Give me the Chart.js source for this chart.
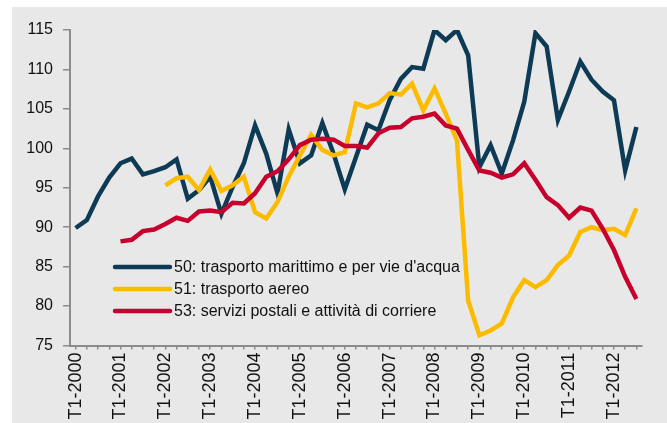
<!DOCTYPE html>
<html><head><meta charset="utf-8">
<script src="https://cdn.jsdelivr.net/npm/chart.js@4.4.1/dist/chart.umd.min.js"></script>
<style>
html,body{margin:0;padding:0;background:#fff;overflow:hidden;width:667px;height:423px;}
#bg{position:absolute;left:12px;top:7px;width:655px;height:416px;background:#e8e8e8;}
#wrap{position:absolute;left:0;top:0;width:667px;height:440px;}
</style></head><body>
<div id="bg"></div>
<div id="wrap"><canvas id="c" width="667" height="440"></canvas></div>
<script>
const years = [2000,2001,2002,2003,2004,2005,2006,2007,2008,2009,2010,2011,2012];
const quarters = ['T1','T2','T3','T4'];
const lastQuarterCount = 3; // series ends at T3-2012
const categories = [];
years.forEach((y, yi) => {
  const n = (yi === years.length - 1) ? lastQuarterCount : 4;
  for (let q = 0; q < n; q++) categories.push(quarters[q] + '-' + y);
});

const seriesNames = [
  "50: trasporto marittimo e per vie d'acqua",
  "51: trasporto aereo",
  "53: servizi postali e attività di corriere"
];
const seriesColors = ['#0d3a54', '#fdbb00', '#c8002d'];

const marittimo = [
  89.9, 90.9, 93.9, 96.3, 98.1, 98.7, 96.7, 97.1, 97.6, 98.6,
  93.6, 94.7, 96.4, 91.7, 95.1, 98.1, 102.9, 99.3, 94.3, 102.4,
  98.1, 99.1, 103.2, 99.3, 94.8, 98.9, 103.0, 102.3, 106.1, 108.8,
  110.3, 110.1, 115.0, 113.7, 115.0, 111.8, 97.6, 100.4, 96.8, 101.0,
  105.9, 114.6, 112.9, 103.6, 107.2, 111.0, 108.7, 107.2, 106.1, 97.2,
  102.7
];
const aereo = [
  null, null, null, null, null, null, null, null, 95.3, 96.2,
  96.4, 94.7, 97.3, 94.6, 95.3, 96.4, 91.9, 91.1, 93.2, 96.4,
  99.1, 101.7, 99.8, 99.1, 99.5, 105.7, 105.2, 105.7, 107.0, 106.8,
  108.2, 104.8, 107.6, 104.4, 101.0, 80.7, 76.3, 76.9, 77.8, 81.1,
  83.3, 82.4, 83.3, 85.2, 86.4, 89.4, 90.0, 89.6, 89.8, 89.0,
  92.4
];
const postali = [
  null, null, null, null, 88.2, 88.4, 89.5, 89.7, 90.4, 91.2,
  90.8, 92.0, 92.1, 91.9, 93.1, 93.0, 94.3, 96.4, 97.1, 98.6,
  100.4, 101.1, 101.2, 101.1, 100.3, 100.3, 100.1, 101.9, 102.6, 102.7,
  103.8, 104.0, 104.4, 102.9, 102.5, 99.8, 97.2, 96.9, 96.3, 96.7,
  98.1, 96.0, 93.8, 92.8, 91.2, 92.5, 92.1, 89.8, 87.1, 83.7,
  80.9
];
const yMin = 75, yMax = 115, yStep = 5;

const FONT = {family: "'Liberation Sans', Arial, sans-serif", size: 16};
const XFONT = {family: "'Liberation Sans', Arial, sans-serif", size: 18};
const AXIS = '#8c8c8c';

const insideLegend = {
  id: 'insideLegend',
  afterDraw(chart) {
    const ctx = chart.ctx;
    const x0 = 115, x1 = 170, tx = 174, ys = [267, 289, 311];
    ctx.save();
    ctx.font = FONT.size + 'px ' + FONT.family;
    ctx.textBaseline = 'middle';
    ctx.textAlign = 'left';
    chart.data.datasets.forEach((ds, i) => {
      ctx.strokeStyle = ds.borderColor;
      ctx.lineWidth = 4.5;
      ctx.lineCap = 'round';
      ctx.beginPath();
      ctx.moveTo(x0, ys[i]);
      ctx.lineTo(x1, ys[i]);
      ctx.stroke();
      ctx.fillStyle = '#111';
      ctx.fillText(ds.label, tx, ys[i] + 1);
    });
    ctx.restore();
  }
};

const mk = (label, data, color, order) => ({
  label, data, borderColor: color, backgroundColor: color,
  borderWidth: 4.5, pointRadius: 0, pointHoverRadius: 0, tension: 0,
  spanGaps: false, order, borderJoinStyle: 'miter', fill: false
});

new Chart(document.getElementById('c'), {
  type: 'line',
  data: {
    labels: categories,
    datasets: [
      mk(seriesNames[0], marittimo, seriesColors[0], 2),
      mk(seriesNames[1], aereo, seriesColors[1], 1),
      mk(seriesNames[2], postali, seriesColors[2], 0)
    ]
  },
  options: {
    responsive: false,
    animation: false,
    devicePixelRatio: 1,
    layout: {padding: {top: 30, right: 25, left: 0, bottom: 0}},
    plugins: {legend: {display: false}, tooltip: {enabled: false}},
    scales: {
      x: {
        type: 'category',
        offset: true,
        grid: {offset: false, drawOnChartArea: false, drawTicks: true, tickLength: 4, color: AXIS, lineWidth: 1.5},
        border: {display: true, color: AXIS, width: 2},
        ticks: {
          autoSkip: false, maxRotation: 90, minRotation: 90, padding: 3, color: '#111', font: XFONT,
          callback: (v, i) => categories[i].startsWith('T1') ? categories[i] : ''
        },
        afterFit: s => { s.height = 440 - 345.5; }
      },
      y: {
        min: yMin, max: yMax,
        grid: {drawOnChartArea: false, drawTicks: true, tickLength: 7, color: AXIS, lineWidth: 1.5},
        border: {display: true, color: AXIS, width: 2},
        ticks: {stepSize: yStep, padding: 10, color: '#111', font: FONT},
        afterFit: s => { s.width = 70; }
      }
    }
  },
  plugins: [insideLegend]
});
</script>
</body></html>
